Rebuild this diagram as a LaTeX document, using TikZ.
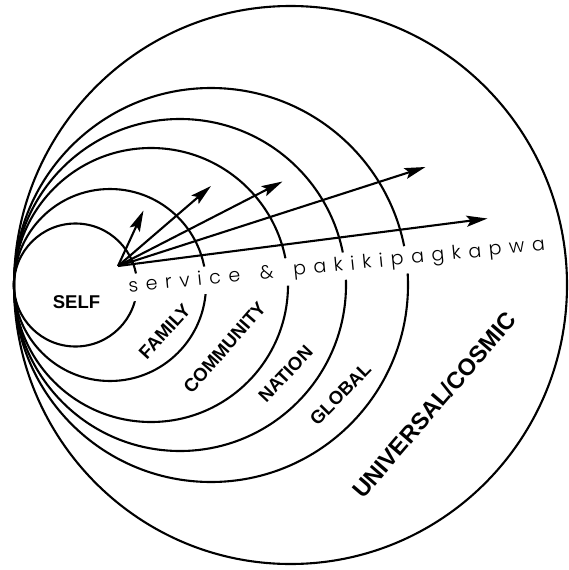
\documentclass[tikz,border=0pt]{standalone}
\usepackage{fontspec}
\setmainfont{Liberation Sans}
\newfontfamily\servicefont{Poppins Light}[LetterSpace=40]
\usetikzlibrary{arrows.meta}

\begin{document}
\begin{tikzpicture}[
  x=1pt, y=-1pt,
  ring/.style={draw, line width=2.1pt},
  tag/.style={inner sep=0pt, font=\fontsize{18.5}{20}\selectfont\bfseries},
  fl/.style={-{Stealth[length=21pt, width=11pt, inset=4pt]}, line width=2.1pt},
]
\useasboundingbox (0,0) rectangle (568,570);
% les cercles, tous tangents au bord gauche
\coordinate (tangent) at (14,285);
\foreach \r in {61.5,96,137,166,197}
  \draw[ring] (tangent) ++(\r,0) circle (\r);
\draw[ring] (tangent) ++(276.5,0) ellipse (276.5 and 279);
% le texte coupe les cercles
\node[fill=white, inner sep=4pt, anchor=base west, rotate=5.8,
      font=\servicefont\fontsize{19}{20}\selectfont] (service) at (125,293)
  {service\hspace{7pt} \&\hspace{7pt} pakikipagkapwa};
% les fleches depuis le soi
\coordinate (self) at (118,266);
\coordinate (tip1) at (143.5,210.5);
\coordinate (tip2) at (211,186);
\coordinate (tip3) at (282.5,181.5);
\coordinate (tip4) at (425.5,167);
\coordinate (tip5) at (487.5,218.5);
\foreach \t in {1,...,5}
  \draw[fl] (self) -- (tip\t);
% les cercles nommes
\node[tag] (lself) at (76.5,302) {SELF};
\node[tag, rotate=47.3] (lfamily) at (164.7,331.6) {FAMILY};
\node[tag, rotate=48.9] (lcommunity) at (224.6,347.7) {COMMUNITY};
\node[tag, rotate=46.7] (lnation) at (285.5,374) {NATION};
\node[tag, rotate=45.5] (lglobal) at (340.5,394) {GLOBAL};
\node[tag, rotate=49.3, font=\fontsize{23.5}{26}\selectfont\bfseries] (luniversal)
  at (434,405) {UNIVERSAL/COSMIC};
\end{tikzpicture}
\end{document}
